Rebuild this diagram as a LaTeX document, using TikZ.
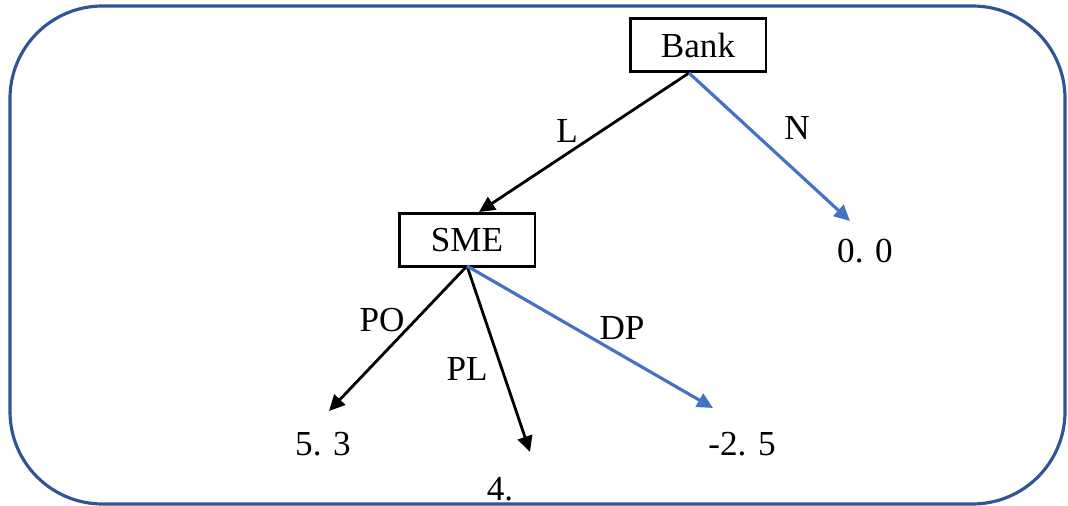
\documentclass[tikz,border=0pt]{standalone}
\usepackage{fontspec}
\setmainfont{Liberation Serif}
\usetikzlibrary{arrows.meta,positioning}

\begin{document}
\begin{tikzpicture}[x=0.02cm,y=-0.02cm,
    every node/.style={font=\fontsize{20}{24}\selectfont},
    player/.style={rectangle, draw, line width=1.7pt, minimum height=1.06cm, inner sep=0pt},
    lbl/.style={anchor=base, inner sep=0pt},
    move/.style={-{Triangle[length=9pt,width=8.5pt]}, line width=1.6pt},
    bluemove/.style={move, draw=edgeblue, fill=edgeblue, line width=1.8pt}]
      \definecolor{edgeblue}{HTML}{4472C4}
      \definecolor{frameblue}{HTML}{2F5597}
      \useasboundingbox (0,0) rectangle (1068,506);
      \draw[frameblue, line width=1.8pt, rounded corners=1.85cm] (10,6) rectangle (1065,504);
      \node[player, minimum width=2.72cm] at (698,45) (bank) {Bank};
      \node[player, minimum width=2.72cm] at (467,240) (sme) {SME};
      \coordinate (bankout) at (689,73);
      \coordinate (smeout) at (467,266);
      \coordinate (tipL) at (479,212);
      \coordinate (tipN) at (850,221);
      \coordinate (tipPO) at (329,411);
      \coordinate (tipPL) at (530,452);
      \coordinate (tipDP) at (713,408);
      \node[lbl] at (865,263) (payN) {0. 0};
      \node[lbl] at (323,455) (payPO) {5. 3};
      \node[lbl] at (500,500) (payPL) {4.};
      \node[lbl] at (742,455) (payDP) {-2. 5};
      \node[lbl] at (567,143) (L) {L};
      \node[lbl] at (797,140) (N) {N};
      \node[lbl] at (382,332) (PO) {PO};
      \node[lbl] at (467,380) (PL) {PL};
      \node[lbl] at (622,339) (DP) {DP};
      \draw[move] (bankout) -- (tipL);
      \draw[bluemove] (bankout) -- (tipN);
      \draw[move] (smeout) -- (tipPO);
      \draw[move] (smeout) -- (tipPL);
      \draw[bluemove] (smeout) -- (tipDP);
      \end{tikzpicture}
\end{document}
